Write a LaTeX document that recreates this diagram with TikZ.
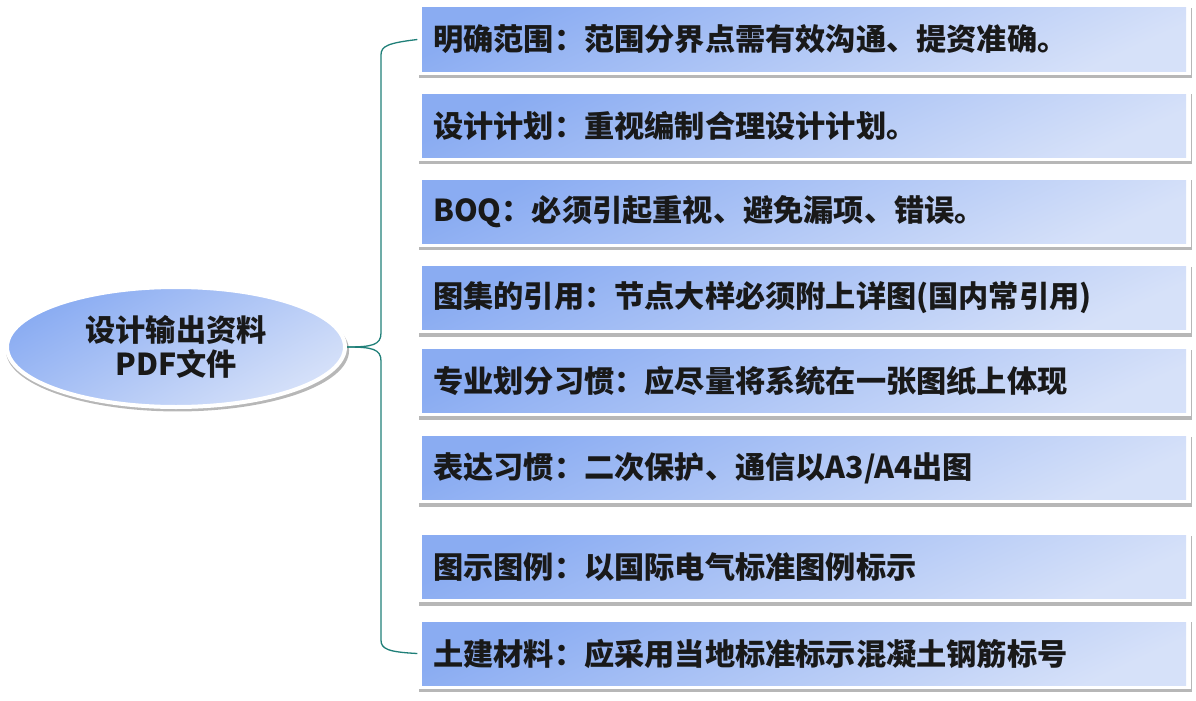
\documentclass[tikz,border=0pt]{standalone}
\usepackage{fontspec}
\setmainfont{Noto Sans CJK SC}
\usetikzlibrary{shadows,shapes.geometric}
\definecolor{gdark}{HTML}{8AACF2}
\definecolor{glight}{HTML}{D6E1F9}
\definecolor{brace}{HTML}{1F7F78}
\tikzset{
  softshadow/.style={drop shadow={shadow xshift=1.5pt, shadow yshift=-3.5pt, opacity=0.4, fill=black!70}},
  itembox/.style={rectangle, fill=white, minimum width=773pt, minimum height=70pt,
    inner sep=0pt, softshadow,
    path picture={\shade[top color=gdark, bottom color=glight, shading angle=25]
      ([shift={(4.5pt,-3.5pt)}]path picture bounding box.north west) rectangle
      ([shift={(-4.5pt,3.5pt)}]path picture bounding box.south east);}},
  itemtext/.style={anchor=west, inner sep=0pt, font=\fontsize{30.2}{36}\selectfont\bfseries, text=black!90},
  hub/.style={ellipse, draw=white, line width=4pt, minimum width=338pt, minimum height=120pt,
    inner sep=0pt, top color=gdark, bottom color=glight, shading angle=30,
    drop shadow={shadow xshift=1.5pt, shadow yshift=-3.5pt, shadow scale=1.015, opacity=0.4, fill=black!70},
    font=\fontsize{30.2}{35}\selectfont\bfseries, align=center, text=black!90},
  conn/.style={draw=brace, line width=1.3pt}
}
\begin{document}
\begin{tikzpicture}[x=1pt,y=-1pt]
\useasboundingbox (0,0) rectangle (1196,701);
\node[hub] (hub) at (176,347) {设计输出资料\\[-1pt]PDF文件};
\foreach \n/\y/\t in {
  1/39.5/{明确范围：范围分界点需有效沟通、提资准确。},
  2/125.5/{设计计划：重视编制合理设计计划。},
  3/211.5/{BOQ：必须引起重视、避免漏项、错误。},
  4/298/{图集的引用：节点大样必须附上详图(国内常引用)},
  5/381/{专业划分习惯：应尽量将系统在一张图纸上体现},
  6/468/{表达习惯：二次保护、通信以A3/A4出图},
  7/567/{图示图例：以国际电气标准图例标示},
  8/653.5/{土建材料：应采用当地标准标示混凝土钢筋标号}}{
  \node[itembox] (b\n) at (804,\y) {};
  \node[itemtext] (t\n) at (433,\y) {\t};
}
\draw[conn] (hub.east) .. controls (372,347) and (381,345) .. (381,333)
  -- (381,55) .. controls (381,46) and (388,43) .. (b1.west);
\draw[conn] (hub.east) .. controls (372,347) and (381,349) .. (381,361)
  -- (381,640) .. controls (381,649) and (388,652) .. (b8.west);
\end{tikzpicture}
\end{document}
